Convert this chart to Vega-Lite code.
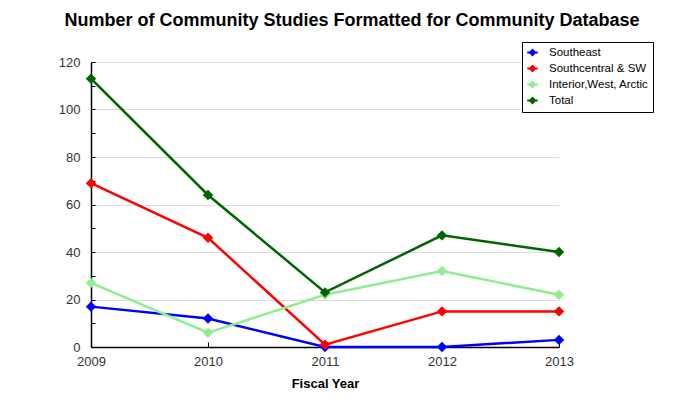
{
  "$schema": "https://vega.github.io/schema/vega-lite/v6.json",
  "width": 468,
  "height": 285,
  "autosize": {"type": "none"},
  "padding": {"left": 91, "top": 62, "right": 137, "bottom": 53},
  "background": "white",
  "title": {
    "text": "Number of Community Studies Formatted for Community Database",
    "font": "Liberation Sans",
    "fontSize": 18,
    "fontWeight": "bold",
    "color": "#000000",
    "anchor": "middle",
    "frame": "group",
    "dx": 27,
    "offset": 12
  },
  "config": {
    "view": {"stroke": null},
    "font": "Liberation Sans"
  },
  "data": {
    "values": [
      {"year": 2009, "series": "Southeast", "value": 17},
      {"year": 2010, "series": "Southeast", "value": 12},
      {"year": 2011, "series": "Southeast", "value": 0},
      {"year": 2012, "series": "Southeast", "value": 0},
      {"year": 2013, "series": "Southeast", "value": 3},
      {"year": 2009, "series": "Southcentral & SW", "value": 69},
      {"year": 2010, "series": "Southcentral & SW", "value": 46},
      {"year": 2011, "series": "Southcentral & SW", "value": 1},
      {"year": 2012, "series": "Southcentral & SW", "value": 15},
      {"year": 2013, "series": "Southcentral & SW", "value": 15},
      {"year": 2009, "series": "Interior,West, Arctic", "value": 27},
      {"year": 2010, "series": "Interior,West, Arctic", "value": 6},
      {"year": 2011, "series": "Interior,West, Arctic", "value": 22},
      {"year": 2012, "series": "Interior,West, Arctic", "value": 32},
      {"year": 2013, "series": "Interior,West, Arctic", "value": 22},
      {"year": 2009, "series": "Total", "value": 113},
      {"year": 2010, "series": "Total", "value": 64},
      {"year": 2011, "series": "Total", "value": 23},
      {"year": 2012, "series": "Total", "value": 47},
      {"year": 2013, "series": "Total", "value": 40}
    ]
  },
  "encoding": {
    "x": {
      "field": "year",
      "type": "quantitative",
      "scale": {"domain": [2009, 2013], "nice": false, "zero": false},
      "axis": {
        "values": [2009, 2010, 2011, 2012, 2013],
        "format": "d",
        "labelFlush": false,
        "labelOverlap": false,
        "title": "Fiscal Year",
        "titleFont": "Liberation Sans",
        "titleFontSize": 13,
        "titleFontWeight": "bold",
        "titleColor": "#000000",
        "titlePadding": 9,
        "labelFont": "Liberation Sans",
        "labelFontSize": 13,
        "labelColor": "#333333",
        "labelPadding": 13,
        "domainColor": "#000000",
        "domainWidth": 1.5,
        "tickColor": "#000000",
        "tickSize": -5,
        "grid": false
      }
    },
    "y": {
      "field": "value",
      "type": "quantitative",
      "scale": {"domain": [0, 120], "nice": false},
      "axis": {
        "values": [0, 10, 20, 30, 40, 50, 60, 70, 80, 90, 100, 110, 120],
        "labelExpr": "datum.value % 20 === 0 ? datum.label : ''",
        "labelFlush": false,
        "title": null,
        "labelFont": "Liberation Sans",
        "labelFontSize": 13,
        "labelColor": "#333333",
        "labelPadding": 15,
        "domainColor": "#000000",
        "domainWidth": 1.5,
        "tickColor": "#000000",
        "tickSize": -4,
        "grid": true,
        "gridColor": "#dddddd",
        "gridOpacity": {"condition": {"test": "datum.value % 20 === 0 && datum.value > 0", "value": 1}, "value": 0}
      }
    },
    "color": {
      "field": "series",
      "type": "nominal",
      "sort": ["Southeast", "Southcentral & SW", "Interior,West, Arctic", "Total"],
      "scale": {
        "domain": ["Southeast", "Southcentral & SW", "Interior,West, Arctic", "Total"],
        "range": ["#0000ff", "#ff0000", "#90ee90", "#006400"]
      },
      "legend": {
        "title": null,
        "orient": "none",
        "legendX": 431,
        "legendY": -20,
        "strokeColor": "#000000",
        "fillColor": "#ffffff",
        "padding": 4,
        "rowPadding": 1,
        "labelFont": "Liberation Sans",
        "labelFontSize": 11.5,
        "labelColor": "#000000",
        "labelOffset": 10,
        "symbolType": "M-1,0L1,0M0,-0.5L0.5,0L0,0.5L-0.5,0Z",
        "symbolSize": 110,
        "symbolStrokeWidth": 2,
        "encode": {
          "symbols": {"update": {"fill": {"scale": "color", "field": "value"}, "fillOpacity": {"value": 1}}}
        }
      }
    }
  },
  "layer": [
    {
      "mark": {"type": "line", "strokeWidth": 2.5},
      "encoding": {}
    },
    {
      "mark": {"type": "point", "shape": "diamond", "filled": true, "opacity": 1, "size": 110},
      "encoding": {}
    }
  ]
}
